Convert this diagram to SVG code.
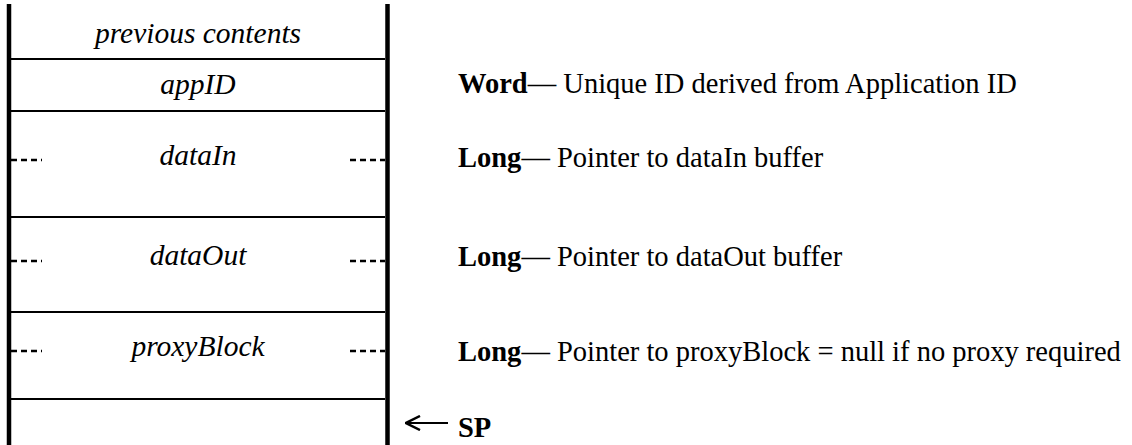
<svg xmlns="http://www.w3.org/2000/svg" width="1132" height="445" viewBox="0 0 1132 445">
<style>
.bar{stroke:#000;stroke-width:4.5;fill:none}
.row{stroke:#000;stroke-width:2.2;fill:none}
.dash{stroke:#000;stroke-width:2.5;stroke-dasharray:6 4;fill:none}
.cell{font-family:"Liberation Serif",serif;font-style:italic;font-size:29.5px;text-anchor:middle;fill:#000}
.desc{font-family:"Liberation Serif",serif;font-size:28.5px;fill:#000}
.desc tspan.b{font-weight:bold}
</style>
<defs>
<marker id="ah" viewBox="0 0 16 16" refX="15" refY="8" markerWidth="16" markerHeight="16" markerUnits="userSpaceOnUse" orient="auto">
<path d="M1,1 L15,8 L1,15" fill="none" stroke="#000" stroke-width="2.5"/>
</marker>
</defs>
<rect width="1132" height="445" fill="#fff"/>
<g id="stack">
<line class="bar" x1="9" y1="4" x2="9" y2="445"/>
<line class="bar" x1="387.5" y1="4" x2="387.5" y2="445"/>
</g>
<g id="node-previous">
<text class="cell" x="198" y="43">previous contents</text>
<line class="row" x1="11" y1="59" x2="385" y2="59"/>
</g>
<g id="node-appID">
<text class="cell" x="198" y="94">appID</text>
<line class="row" x1="11" y1="111" x2="385" y2="111"/>
<text class="desc" x="458" y="93"><tspan class="b">Word</tspan>— Unique ID derived from Application ID</text>
</g>
<g id="node-dataIn">
<text class="cell" x="198" y="165">dataIn</text>
<line class="dash" x1="11" y1="160" x2="42" y2="160"/>
<line class="dash" x1="350" y1="160" x2="385" y2="160"/>
<line class="row" x1="11" y1="217" x2="385" y2="217"/>
<text class="desc" x="458" y="167"><tspan class="b">Long</tspan>— Pointer to dataIn buffer</text>
</g>
<g id="node-dataOut">
<text class="cell" x="198" y="265">dataOut</text>
<line class="dash" x1="11" y1="261" x2="42" y2="261"/>
<line class="dash" x1="350" y1="261" x2="385" y2="261"/>
<line class="row" x1="11" y1="312" x2="385" y2="312"/>
<text class="desc" x="458" y="266"><tspan class="b">Long</tspan>— Pointer to dataOut buffer</text>
</g>
<g id="node-proxyBlock">
<text class="cell" x="198" y="356">proxyBlock</text>
<line class="dash" x1="11" y1="351" x2="42" y2="351"/>
<line class="dash" x1="350" y1="351" x2="385" y2="351"/>
<line class="row" x1="11" y1="399" x2="385" y2="399"/>
<text class="desc" x="458" y="361"><tspan class="b">Long</tspan>— Pointer to proxyBlock = null if no proxy required</text>
</g>
<g id="connectors">
<line x1="448" y1="423" x2="406" y2="423" stroke="#000" stroke-width="2.2" marker-end="url(#ah)"/>
</g>
<g id="sp">
<text class="desc" x="458" y="437" font-weight="bold" font-size="27px">SP</text>
</g>
</svg>
